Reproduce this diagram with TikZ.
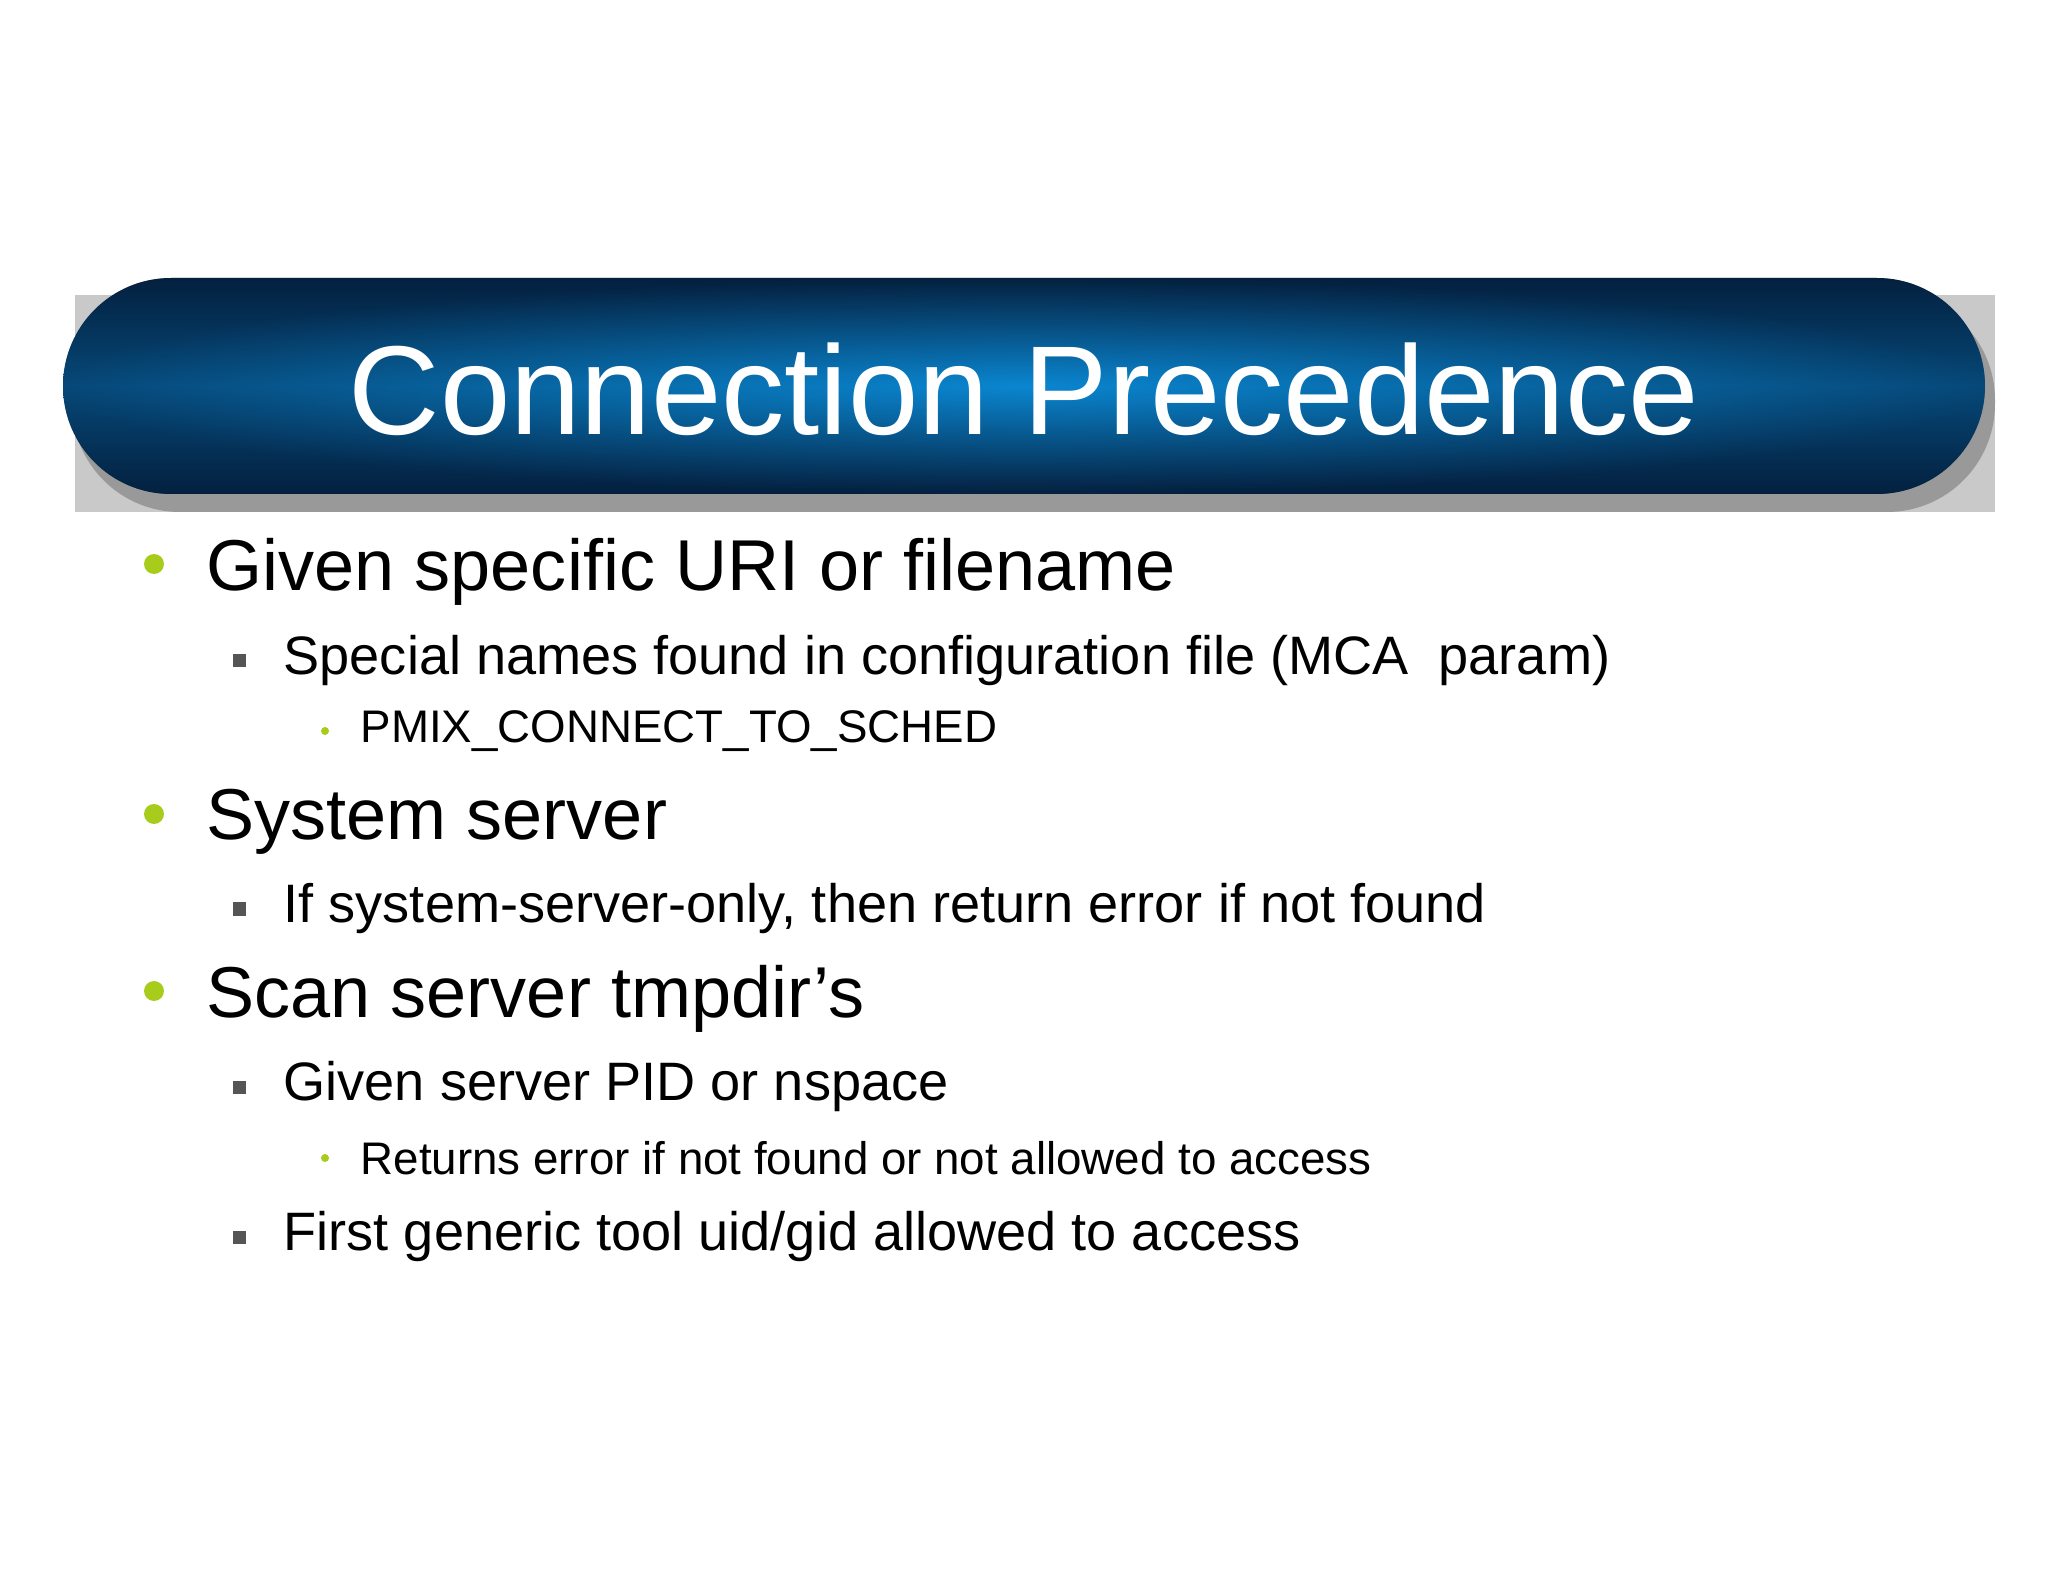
\documentclass[tikz,border=0pt]{standalone}
\usepackage{fontspec}
\setmainfont{Liberation Sans}
\usetikzlibrary{shadows}
\definecolor{navy}{HTML}{04203F}
\definecolor{bright}{HTML}{0A86D0}
\definecolor{lime}{HTML}{A8CC1C}
\definecolor{sq}{HTML}{555555}
\tikzset{
 lone/.style={anchor=west,font=\fontsize{20.5pt}{24pt}\selectfont,inner sep=0},
 ltwo/.style={anchor=west,font=\fontsize{15.4pt}{18pt}\selectfont,inner sep=0},
 lthree/.style={anchor=west,font=\fontsize{13pt}{16pt}\selectfont,inner sep=0},
 bone/.style={circle,fill=lime,minimum size=0.2cm,inner sep=0},
 btwo/.style={fill=sq,minimum size=0.13cm,inner sep=0},
 bthree/.style={circle,fill=lime,minimum size=0.08cm,inner sep=0}
}
\begin{document}
\begin{tikzpicture}
\useasboundingbox[fill=white] (0,0) rectangle (20.48,-15.82);
\fill[black!35,opacity=0.6] (0.75,-2.95) rectangle (19.95,-5.12) [rounded corners=1.08cm];
\fill[black!40,rounded corners=1.08cm] (0.72,-2.92) rectangle (19.95,-5.12);
\begin{scope}
\clip[rounded corners=1.08cm] (0.63,-2.78) rectangle (19.85,-4.94);
\shade[outer color=navy,inner color=bright] (0.63,-2.78) rectangle (19.85,-4.94);
\shade[top color=navy,bottom color=navy,middle color=bright,opacity=0.4] (0.63,-2.78) rectangle (19.85,-4.94);
\end{scope}
\node[text=white,font=\fontsize{36pt}{40pt}\selectfont] (title) at (10.24,-3.89) {Connection Precedence};

\node[bone] (b1) at (1.54,-5.64) {};
\node[lone] (t1) at (2.06,-5.72) {Given specific URI or filename};
\node[btwo] (b2) at (2.39,-6.61) {};
\node[ltwo] (t2) at (2.83,-6.61) {Special names found in configuration file (MCA\ \ param)};
\node[bthree] (b3) at (3.25,-7.31) {};
\node[lthree] (t3) at (3.60,-7.31) {PMIX\_CONNECT\_TO\_SCHED};
\node[bone] (b4) at (1.54,-8.14) {};
\node[lone] (t4) at (2.06,-8.22) {System server};
\node[btwo] (b5) at (2.39,-9.09) {};
\node[ltwo] (t5) at (2.83,-9.09) {If system-server-only, then return error if not found};
\node[bone] (b6) at (1.54,-9.91) {};
\node[lone] (t6) at (2.06,-9.99) {Scan server tmpdir’s};
\node[btwo] (b7) at (2.39,-10.87) {};
\node[ltwo] (t7) at (2.83,-10.87) {Given server PID or nspace};
\node[bthree] (b8) at (3.25,-11.58) {};
\node[lthree] (t8) at (3.60,-11.58) {Returns error if not found or not allowed to access};
\node[btwo] (b9) at (2.39,-12.37) {};
\node[ltwo] (t9) at (2.83,-12.37) {First generic tool uid/gid allowed to access};
\end{tikzpicture}
\end{document}
